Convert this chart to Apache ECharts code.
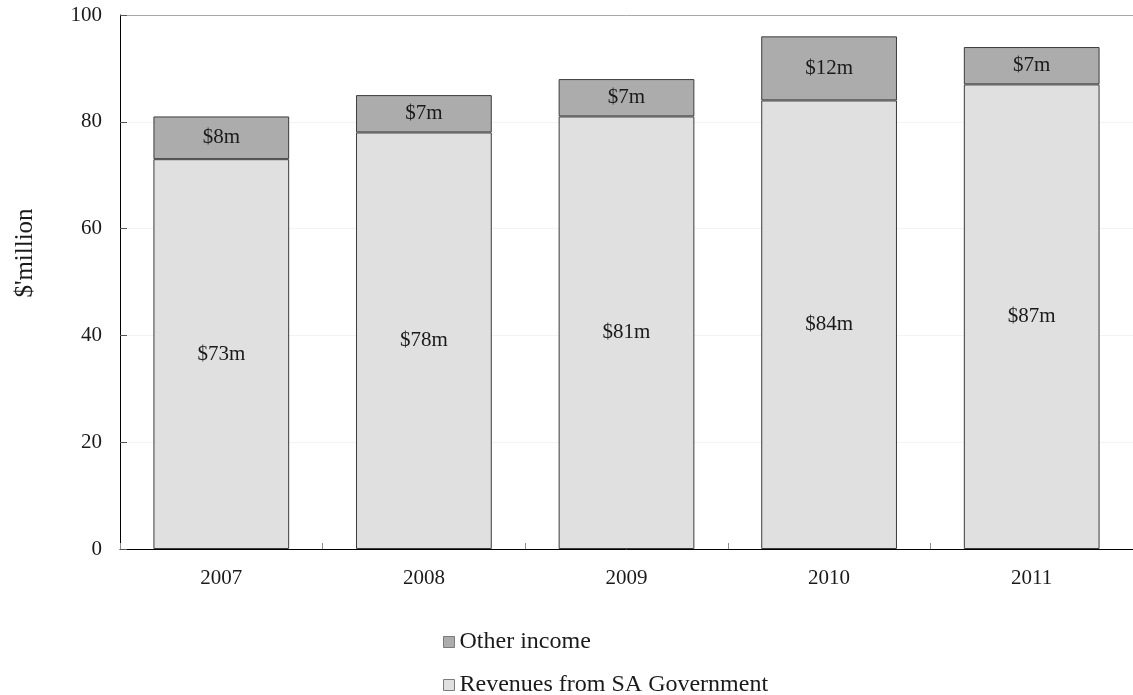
<!DOCTYPE html>
<html>
<head>
<meta charset="utf-8">
<script src="https://cdn.jsdelivr.net/npm/echarts@6/dist/echarts.min.js"></script>
<style>
  html, body { margin: 0; padding: 0; background: #fff; }
  #chart { width: 1133px; height: 695px; }
</style>
</head>
<body>
<div id="chart"></div>
<script>
// Income by financial year, $ million
const years = ['2007', '2008', '2009', '2010', '2011'];
const revenuesSA = [73, 78, 81, 84, 87];
const otherIncome = [8, 7, 7, 12, 7];
const yTicks = [0, 20, 40, 60, 80, 100];

const FONT = '"Liberation Serif", "Times New Roman", serif';
const TEXT = '#1a1a1a';
const SIZE = 21;

const chart = echarts.init(document.getElementById('chart'), null, { renderer: 'canvas' });

const labelFmt = p => '$' + p.value + 'm';

chart.setOption({
  animation: false,
  backgroundColor: '#ffffff',
  textStyle: { fontFamily: FONT },
  grid: { left: 120, top: 15, width: 1019, height: 534, containLabel: false },
  legend: {
    orient: 'vertical',
    left: 443,
    top: 630,
    height: 100,
    padding: 0,
    itemGap: 19,
    itemWidth: 11,
    itemHeight: 11,
    icon: 'rect',
    itemStyle: { borderColor: '#7a7a7a', borderWidth: 1 },
    data: ['Other income', 'Revenues from SA Government'],
    textStyle: { fontFamily: FONT, fontSize: 24, lineHeight: 24, color: TEXT, padding: 0 }
  },
  xAxis: {
    type: 'category',
    data: years,
    boundaryGap: true,
    axisLine: { lineStyle: { color: '#000', width: 1 } },
    axisTick: { show: true, inside: true, length: 6, lineStyle: { color: '#8c8c8c' } },
    axisLabel: { fontFamily: FONT, fontSize: SIZE, color: TEXT, margin: 19 }
  },
  yAxis: {
    type: 'value',
    min: yTicks[0],
    max: yTicks[yTicks.length - 1],
    interval: 20,
    name: "$'million",
    nameLocation: 'middle',
    nameGap: 82,
    nameRotate: 90,
    nameTextStyle: { fontFamily: FONT, fontSize: 25, color: TEXT, padding: [0, 0, 0, 58] },
    axisLine: { show: true, lineStyle: { color: '#000', width: 1 } },
    axisTick: { show: true, inside: true, length: 7, lineStyle: { color: '#555' } },
    axisLabel: { fontFamily: FONT, fontSize: SIZE, color: TEXT, margin: 18 },
    splitLine: {
      show: true,
      lineStyle: { color: ['#f3f3f3', '#f3f3f3', '#f3f3f3', '#f3f3f3', '#f3f3f3', '#a8a8a8'], width: 1 }
    }
  },
  series: [
    {
      name: 'Revenues from SA Government',
      type: 'bar',
      stack: 'income',
      data: revenuesSA,
      barCategoryGap: '33%',
      itemStyle: { color: '#e0e0e0', borderColor: '#3c3c3c', borderWidth: 1 },
      label: { show: true, position: 'inside', formatter: labelFmt, fontFamily: FONT, fontSize: SIZE, color: TEXT }
    },
    {
      name: 'Other income',
      type: 'bar',
      stack: 'income',
      data: otherIncome,
      barCategoryGap: '33%',
      itemStyle: { color: '#acacac', borderColor: '#3c3c3c', borderWidth: 1 },
      label: { show: true, position: 'inside', formatter: labelFmt, fontFamily: FONT, fontSize: SIZE, color: TEXT }
    }
  ]
});
</script>
</body>
</html>
